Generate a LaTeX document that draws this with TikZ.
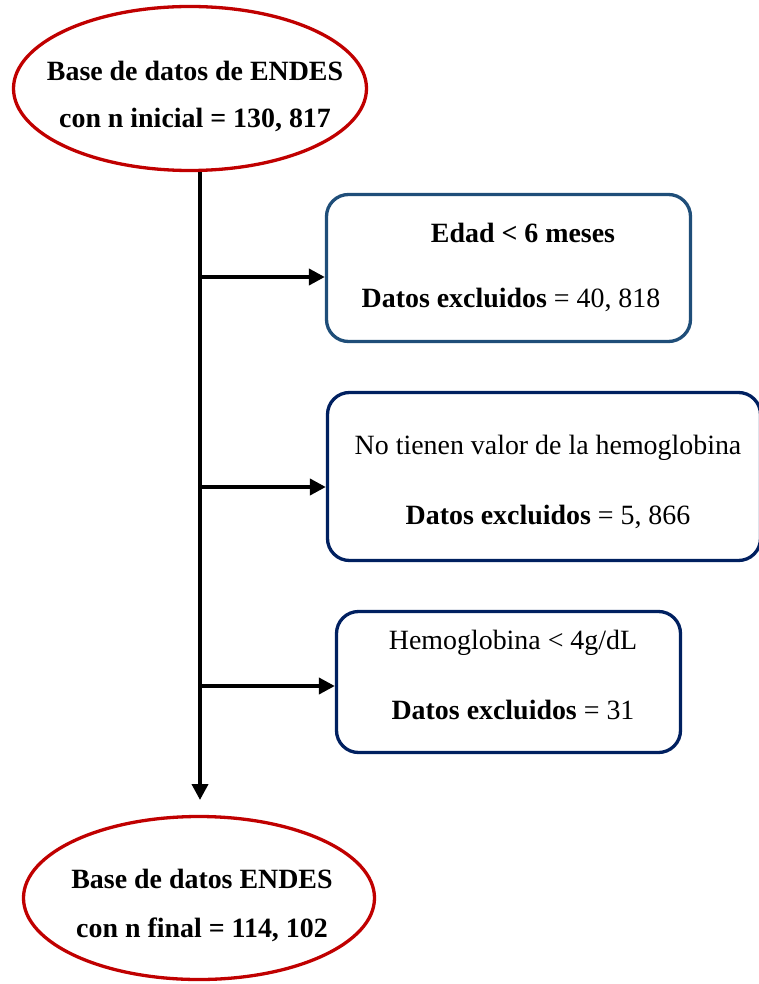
\documentclass[tikz,border=0pt]{standalone}
\usepackage{fontspec}
\setmainfont{Liberation Serif}
\usetikzlibrary{arrows.meta,shapes.geometric}
\definecolor{redc}{HTML}{C00000}
\definecolor{boxa}{HTML}{1F4E79}
\definecolor{boxb}{HTML}{002060}
\begin{document}
\begin{tikzpicture}[x=1pt,y=-1pt,
 oval/.style={ellipse, draw=redc, line width=3.3pt, inner sep=0pt},
 exbox/.style={rectangle, rounded corners=22pt, draw=#1, line width=3.3pt, inner sep=0pt},
 txt/.style={anchor=base, inner sep=0pt, font=\fontsize{27.9}{33}\selectfont},
 flow/.style={line width=3.8pt, -{Triangle[length=16pt,width=16pt]}}]
\useasboundingbox (0,0) rectangle (758,984);
% ovals
\node[oval, minimum width=353pt, minimum height=164pt] (top) at (190,88.5) {};
\node[oval, minimum width=351pt, minimum height=163pt] (bot) at (199,898) {};
% boxes
\node[exbox=boxa, minimum width=364pt, minimum height=147pt] (e1) at (508.5,268) {};
\node[exbox=boxb, minimum width=433pt, minimum height=168pt] (e2) at (544,476.5) {};
\node[exbox=boxb, minimum width=344pt, minimum height=141pt] (e3) at (508.5,682) {};
% texts
\node[txt] (t1) at (195,81) {\textbf{Base de datos de ENDES}};
\node[txt] (t2) at (195,128) {\textbf{con n inicial = 130, 817}};
\node[txt] (a1) at (523,242) {\textbf{Edad < 6 meses}};
\node[txt] (a2) at (511,307) {\textbf{Datos excluidos} = 40, 818};
\node[txt] (b1) at (548,454) {No tienen valor de la hemoglobina};
\node[txt] (b2) at (548,524) {\textbf{Datos excluidos} = 5, 866};
\node[txt] (c1) at (513,649) {Hemoglobina < 4g/dL};
\node[txt] (c2) at (513,719) {\textbf{Datos excluidos} = 31};
\node[txt] (d1) at (202,888) {\textbf{Base de datos ENDES}};
\node[txt] (d2) at (202,937) {\textbf{con n final = 114, 102}};
% connectors
\coordinate (end) at (200,800);
\coordinate (j1) at (200,277);
\coordinate (j2) at (200,487);
\coordinate (j3) at (200,686);
\draw[flow] (top.south -| end) -- (end);
\draw[flow] (j1) -- (j1 -| e1.west);
\draw[flow] (j2) -- (j2 -| e2.west);
\draw[flow] (j3) -- (j3 -| e3.west);
\end{tikzpicture}
\end{document}
